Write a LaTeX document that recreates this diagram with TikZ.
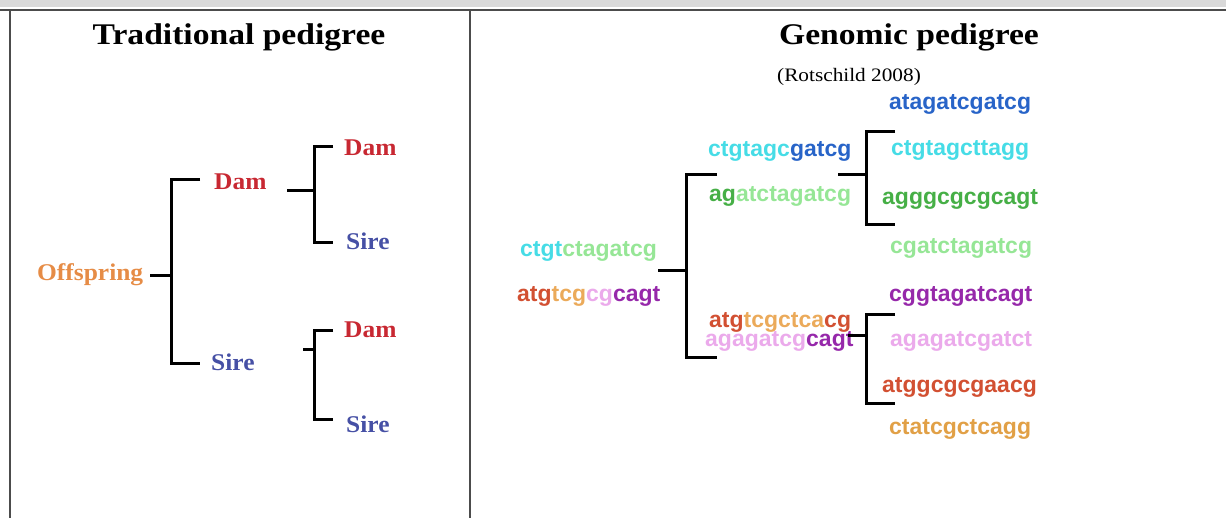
\documentclass[tikz,border=0pt]{standalone}
\usepackage{fontspec}
\setmainfont{Liberation Serif}
\newfontfamily\ttlfont[FakeStretch=1.12]{Liberation Serif}
\newfontfamily\lblfont[FakeStretch=1.06]{Liberation Serif}
\newfontfamily\seqfont{Liberation Sans}
\definecolor{cCyan}{RGB}{70,220,230}
\definecolor{cLgreen}{RGB}{150,230,150}
\definecolor{cBlue}{RGB}{40,100,200}
\definecolor{cGreen}{RGB}{70,175,70}
\definecolor{cRed}{RGB}{210,80,50}
\definecolor{cLorange}{RGB}{235,170,90}
\definecolor{cPink}{RGB}{235,170,235}
\definecolor{cPurple}{RGB}{150,40,170}
\definecolor{cOrange}{RGB}{225,160,70}
\definecolor{cOff}{RGB}{230,140,70}
\definecolor{cDam}{RGB}{200,40,50}
\definecolor{cSire}{RGB}{70,80,165}
\begin{document}
\begin{tikzpicture}[x=1pt,y=-1pt,
  ttl/.style={anchor=base, inner sep=0, font=\ttlfont\bfseries\fontsize{30}{34}\selectfont},
  lbl/.style={anchor=base west, inner sep=0, font=\lblfont\bfseries\fontsize{24}{28}\selectfont},
  seq/.style={anchor=base west, inner sep=0, font=\seqfont\bfseries\fontsize{23}{27}\selectfont},
  br/.style={line width=3pt, black, line join=miter},
  frame/.style={line width=2.2pt, black!70}]
\useasboundingbox (0,0) rectangle (1226,518);
\fill[black!15] (0,0) rectangle (1226,7);
% frame
\coordinate (ftl) at (0,10);
\coordinate (ftr) at (1226,10);
\coordinate (fl1) at (10,10);
\coordinate (fl2) at (10,518);
\coordinate (fd1) at (470,10);
\coordinate (fd2) at (470,518);
\draw[frame] (ftl) -- (ftr);
\draw[frame] (fl1) -- (fl2);
\draw[frame] (fd1) -- (fd2);
% titles
\node[ttl] (t1) at (239,45) {Traditional pedigree};
\node[ttl] (t2) at (909,45) {Genomic pedigree};
\node[anchor=base west, inner sep=0, font=\ttlfont\fontsize{19}{22}\selectfont] (ref) at (777,82) {(Rotschild 2008)};
% traditional pedigree
\node[lbl, text=cOff] (off) at (37,281) {Offspring};
\node[lbl, text=cDam] (d1) at (214,190) {Dam};
\node[lbl, text=cSire] (s1) at (211,371) {Sire};
\node[lbl, text=cDam] (d11) at (344,156) {Dam};
\node[lbl, text=cSire] (s11) at (346,250) {Sire};
\node[lbl, text=cDam] (d12) at (344,338) {Dam};
\node[lbl, text=cSire] (s12) at (346,432) {Sire};
% brackets (traditional)
\coordinate (a0) at (150,276);
\coordinate (a1) at (171,276);
\coordinate (at) at (200,180);
\coordinate (atc) at (171,180);
\coordinate (abc) at (171,364);
\coordinate (ab) at (200,364);
\draw[br] (a0) -- (a1);
\draw[br] (at) -- (atc) -- (abc) -- (ab);
\coordinate (b0) at (287,191);
\coordinate (b1) at (314,191);
\coordinate (bt) at (333,147);
\coordinate (btc) at (314,147);
\coordinate (bbc) at (314,243);
\coordinate (bb) at (333,243);
\draw[br] (b0) -- (b1);
\draw[br] (bt) -- (btc) -- (bbc) -- (bb);
\coordinate (c0) at (303,350);
\coordinate (c1) at (314,350);
\coordinate (ct) at (333,331);
\coordinate (ctc) at (314,331);
\coordinate (cbc) at (314,419);
\coordinate (cb) at (333,419);
\draw[br] (c0) -- (c1);
\draw[br] (ct) -- (ctc) -- (cbc) -- (cb);
% genomic pedigree
\node[seq] (o1) at (520,257) {\textcolor{cCyan}{ctgt}\textcolor{cLgreen}{ctagatcg}};
\node[seq] (o2) at (517,302) {\textcolor{cRed}{atg}\textcolor{cLorange}{tcg}\textcolor{cPink}{cg}\textcolor{cPurple}{cagt}};
\node[seq] (p1) at (708,157) {\textcolor{cCyan}{ctgtagc}\textcolor{cBlue}{gatcg}};
\node[seq] (p2) at (709,202) {\textcolor{cGreen}{ag}\textcolor{cLgreen}{atctagatcg}};
\node[seq] (p3) at (709,328) {\textcolor{cRed}{atg}\textcolor{cLorange}{tcgctca}\textcolor{cRed}{cg}};
\node[seq] (p4) at (705,347) {\textcolor{cPink}{agagatcg}\textcolor{cPurple}{cagt}};
\node[seq, text=cBlue] (g1) at (889,110) {atagatcgatcg};
\node[seq, text=cCyan] (g2) at (891,156) {ctgtagcttagg};
\node[seq, text=cGreen] (g3) at (882,205) {agggcgcgcagt};
\node[seq, text=cLgreen] (g4) at (890,254) {cgatctagatcg};
\node[seq, text=cPurple] (g5) at (889,302) {cggtagatcagt};
\node[seq, text=cPink] (g6) at (890,347) {agagatcgatct};
\node[seq, text=cRed] (g7) at (882,392) {atggcgcgaacg};
\node[seq, text=cOrange] (g8) at (889,434) {ctatcgctcagg};
% brackets (genomic)
\coordinate (e0) at (658,271);
\coordinate (e1) at (686,271);
\coordinate (et) at (717,175);
\coordinate (etc) at (686,175);
\coordinate (ebc) at (686,358);
\coordinate (eb) at (717,358);
\draw[br] (e0) -- (e1);
\draw[br] (et) -- (etc) -- (ebc) -- (eb);
\coordinate (f0) at (838,175);
\coordinate (f1) at (866,175);
\coordinate (ft) at (895,132);
\coordinate (ftc) at (866,132);
\coordinate (fbc) at (866,225);
\coordinate (fb) at (895,225);
\draw[br] (f0) -- (f1);
\draw[br] (ft) -- (ftc) -- (fbc) -- (fb);
\coordinate (h0) at (848,336);
\coordinate (h1) at (866,336);
\coordinate (ht) at (895,315);
\coordinate (htc) at (866,315);
\coordinate (hbc) at (866,403);
\coordinate (hb) at (895,403);
\draw[br] (h0) -- (h1);
\draw[br] (ht) -- (htc) -- (hbc) -- (hb);
\end{tikzpicture}
\end{document}
